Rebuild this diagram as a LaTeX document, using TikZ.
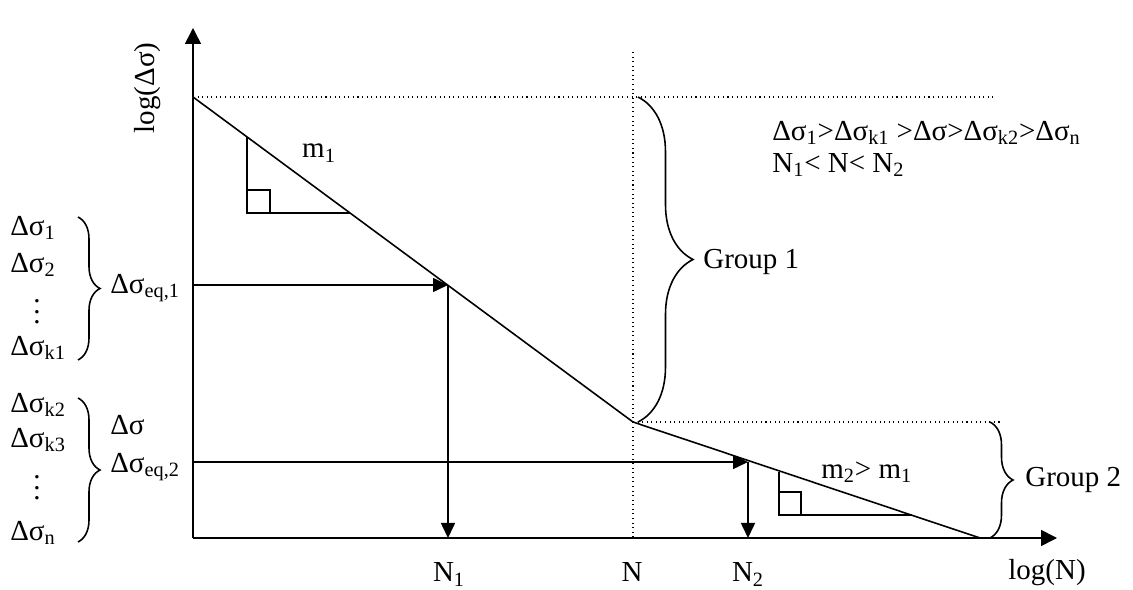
\documentclass[tikz,border=0pt]{standalone}
\usepackage{fontspec}
\setmainfont{Liberation Serif}
\usetikzlibrary{arrows.meta,decorations.pathreplacing}
\newcommand{\dsig}{Δσ}
\newcommand{\dotcol}{\vbox{\baselineskip=6pt\lineskiplimit=0pt\hbox{.}\hbox{.}\hbox{.}}}

\begin{document}
\begin{tikzpicture}[x=0.02cm, y=-0.02cm,
  lbl/.style={inner sep=0pt, font=\fontsize{16.5}{20}\selectfont},
  arr/.style={-{Triangle[length=0.3cm, width=0.28cm]}, line width=0.9pt},
  axisarr/.style={-{Triangle[length=0.32cm, width=0.32cm]}, line width=0.9pt},
  guide/.style={dotted, line width=0.6pt},
  slope/.style={line width=0.8pt},
  curly/.style={decorate, decoration={brace, amplitude=#1}, line width=0.9pt}
]
  \useasboundingbox (0,0) rectangle (1133,590);
  \coordinate (O)       at (193,538);
  \coordinate (ytip)    at (193,28);
  \coordinate (xtip)    at (1057,538);
  \coordinate (top)     at (193,97);
  \coordinate (topend)  at (993,97);
  \coordinate (knee)    at (633,422);
  \coordinate (kneeend) at (1000,422);
  \coordinate (Ntop)    at (633,52);
  \coordinate (Nfoot)   at (633,538);
  \coordinate (end)     at (980,538);
  \coordinate (eq1)     at (193,285);
  \coordinate (hit1)    at (448,285);
  \coordinate (foot1)   at (448,538);
  \coordinate (eq2)     at (193,462);
  \coordinate (hit2)    at (748,462);
  \coordinate (foot2)   at (748,538);

  \draw[axisarr] (O) -- (ytip);
  \draw[axisarr] (O) -- (xtip);
  \draw[guide] (top) -- (topend);
  \draw[guide] (knee) -- (kneeend);
  \draw[guide] (Ntop) -- (Nfoot);
  \draw[line width=0.9pt] (top) -- (knee) -- (end);
  \draw[arr] (eq1) -- (hit1);
  \draw[arr] (hit1) -- (foot1);
  \draw[arr] (eq2) -- (hit2);
  \draw[arr] (hit2) -- (foot2);

  \draw[slope] (247,137) |- (350,213);
  \draw[slope] (247,190) -| (270,213);
  \draw[slope] (779,472) |- (912,515);
  \draw[slope] (779,492) -| (801,515);

  \draw[curly=1.1cm]  (638,97) -- (638,422);
  \draw[curly=0.46cm] (990,422) -- (990,538);
  \draw[curly=0.44cm] (78,217) -- (78,360);
  \draw[curly=0.44cm] (78,398) -- (78,542);

  \node[lbl, rotate=90]     (ylab)  at (148,88)   {log(\dsig)};
  \node[lbl, anchor=base]   (xlab)  at (1047,580) {log(N)};
  \node[lbl, anchor=base]   (n1)    at (449,582)  {N\textsubscript{1}};
  \node[lbl, anchor=base]   (n)     at (632,582)  {N};
  \node[lbl, anchor=base]   (n2)    at (748,582)  {N\textsubscript{2}};
  \node[lbl]                (m1)    at (319,153)  {m\textsubscript{1}};
  \node[lbl, anchor=west]   (m2)    at (821,472)  {m\textsubscript{2}> m\textsubscript{1}};
  \node[lbl, anchor=west]   (g1)    at (703,262)  {Group 1};
  \node[lbl, anchor=west]   (g2)    at (1025,480) {Group 2};
  \node[lbl, anchor=west]   (order) at (772,133)  {\dsig\textsubscript{1}>\dsig\textsubscript{k1} >\dsig>\dsig\textsubscript{k2}>\dsig\textsubscript{n}};
  \node[lbl, anchor=west]   (life)  at (772,165)  {N\textsubscript{1}< N< N\textsubscript{2}};

  \node[lbl, anchor=west]   (s1)    at (10,228)   {\dsig\textsubscript{1}};
  \node[lbl, anchor=west]   (s2)    at (10,265)   {\dsig\textsubscript{2}};
  \node[lbl]                (dots1) at (37,312)   {\dotcol};
  \node[lbl, anchor=west]   (sk1)   at (10,348)   {\dsig\textsubscript{k1}};
  \node[lbl, anchor=west]   (sk2)   at (10,405)   {\dsig\textsubscript{k2}};
  \node[lbl, anchor=west]   (sk3)   at (10,440)   {\dsig\textsubscript{k3}};
  \node[lbl]                (dots2) at (37,488)   {\dotcol};
  \node[lbl, anchor=west]   (sn)    at (10,533)   {\dsig\textsubscript{n}};

  \node[lbl, anchor=west]   (eqa)   at (110,288)  {\dsig\textsubscript{eq,1}};
  \node[lbl, anchor=west]   (sig)   at (110,425)  {\dsig};
  \node[lbl, anchor=west]   (eqb)   at (110,467)  {\dsig\textsubscript{eq,2}};
\end{tikzpicture}
\end{document}
